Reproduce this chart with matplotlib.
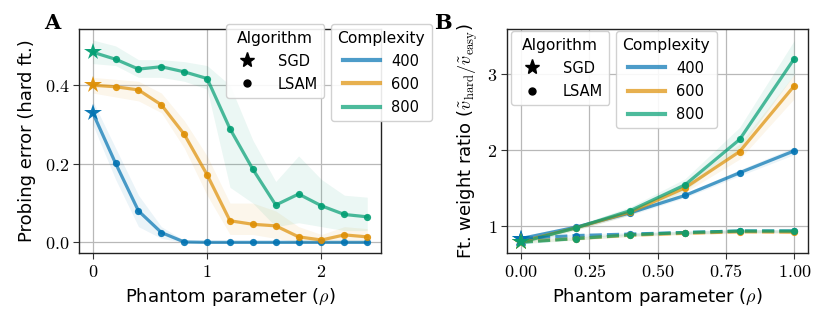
import matplotlib
matplotlib.use("Agg")
import matplotlib.pyplot as plt
import numpy as np
from matplotlib.ticker import FuncFormatter
from matplotlib.lines import Line2D

plt.rcParams['mathtext.fontset'] = 'cm'
plt.rcParams['font.family'] = ['DejaVu Sans']

# ---------------- Data ----------------
complexities = ["400", "600", "800"]
colors = ["#0173B2", "#DE8F05", "#029E73"]

rho_a = [0.0, 0.2, 0.4, 0.6, 0.8, 1.0, 1.2, 1.4, 1.6, 1.8, 2.0, 2.2, 2.4]
err_400 = [0.330, 0.201, 0.080, 0.025, 0.001, 0.0, 0.0, 0.0, 0.0, 0.0, 0.0, 0.0, 0.0]
err_600 = [0.400, 0.396, 0.388, 0.350, 0.275, 0.172, 0.055, 0.046, 0.042, 0.014, 0.006, 0.019, 0.014]
err_800 = [0.484, 0.466, 0.441, 0.447, 0.434, 0.417, 0.289, 0.186, 0.095, 0.123, 0.093, 0.071, 0.065]
err_400_lo = [0.30, 0.16, 0.04, 0.010, 0.0, 0.0, 0.0, 0.0, 0.0, 0.0, 0.0, 0.0, 0.0]
err_400_hi = [0.36, 0.24, 0.12, 0.040, 0.005, 0.002, 0.002, 0.002, 0.002, 0.002, 0.002, 0.002, 0.002]
err_600_lo = [0.38, 0.37, 0.36, 0.33, 0.24, 0.12, 0.02, 0.02, 0.01, 0.0, 0.0, 0.0, 0.0]
err_600_hi = [0.42, 0.415, 0.41, 0.38, 0.31, 0.22, 0.10, 0.10, 0.08, 0.04, 0.02, 0.04, 0.035]
err_800_lo = [0.455, 0.45, 0.42, 0.42, 0.41, 0.39, 0.14, 0.10, 0.04, 0.05, 0.04, 0.03, 0.03]
err_800_hi = [0.515, 0.50, 0.465, 0.465, 0.46, 0.45, 0.40, 0.26, 0.155, 0.22, 0.16, 0.12, 0.115]

rho_b = [0.0, 0.2, 0.4, 0.6, 0.8, 1.0]
ratio_400 = [0.83, 0.98, 1.17, 1.40, 1.70, 1.99]
ratio_600 = [0.79, 0.97, 1.18, 1.50, 1.98, 2.85]
ratio_800 = [0.78, 0.97, 1.20, 1.54, 2.14, 3.21]
ratio_400_lo = [0.80, 0.95, 1.14, 1.37, 1.66, 1.94]
ratio_400_hi = [0.86, 1.01, 1.20, 1.43, 1.74, 2.04]
ratio_600_lo = [0.76, 0.94, 1.14, 1.44, 1.88, 2.68]
ratio_600_hi = [0.82, 1.00, 1.22, 1.56, 2.08, 3.00]
ratio_800_lo = [0.75, 0.94, 1.15, 1.46, 2.02, 3.00]
ratio_800_hi = [0.81, 1.00, 1.25, 1.62, 2.30, 3.45]
dash_400 = [0.83, 0.87, 0.89, 0.91, 0.93, 0.93]
dash_600 = [0.79, 0.83, 0.875, 0.90, 0.92, 0.915]
dash_800 = [0.78, 0.83, 0.88, 0.91, 0.93, 0.93]

xticks_a = [0, 1, 2]
yticks_a = [0.0, 0.2, 0.4]
xticks_b = [0.0, 0.25, 0.5, 0.75, 1.0]
yticks_b = [1, 2, 3]

# ---------------- Figure ----------------
fig = plt.figure(figsize=(8.3, 3.26), dpi=100)
axA = fig.add_axes([0.0952, 0.224, 0.459 - 0.0952, 0.911 - 0.224])
axB = fig.add_axes([0.611, 0.224, 0.9735 - 0.611, 0.911 - 0.224])

LW = 2.3
LALPHA = 0.7


def style(ax):
    ax.grid(True, color="#b8b8b8", lw=0.9)
    ax.set_axisbelow(True)
    for s in ax.spines.values():
        s.set_color("#222222")
        s.set_linewidth(1.0)
    ax.tick_params(axis='both', which='major', length=4, width=0.8,
                   labelsize=13, color="#333333", pad=3)


def plot_series(ax, x, y, lo, hi, c, dashed=False, band=True):
    x = np.asarray(x)
    y = np.asarray(y)
    if band:
        ax.fill_between(x, lo, hi, color=c, alpha=0.08, lw=0)
    ls = (0, (3.8, 1.6)) if dashed else '-'
    ax.plot(x, y, color=c, lw=LW, alpha=LALPHA, ls=ls, zorder=3)
    ax.plot(x[1:], y[1:], 'o', color=c, ms=5.2, alpha=0.9, zorder=4, mew=0)
    ax.plot(x[:1], y[:1], '*', color=c, ms=13, alpha=0.95, zorder=5, mew=0)


# Panel A
style(axA)
for y, lo, hi, c in zip([err_400, err_600, err_800],
                        [err_400_lo, err_600_lo, err_800_lo],
                        [err_400_hi, err_600_hi, err_800_hi], colors):
    plot_series(axA, rho_a, y, lo, hi, c)
axA.set_xlim(-0.12, 2.52)
axA.set_ylim(-0.027, 0.543)
axA.set_xticks(xticks_a)
axA.set_yticks(yticks_a)
axA.xaxis.set_major_formatter(FuncFormatter(lambda v, p: f"${v:g}$"))
axA.yaxis.set_major_formatter(FuncFormatter(lambda v, p: f"${v:.1f}$"))
axA.set_xlabel(r"Phantom parameter ($\rho$)", fontsize=13, labelpad=4)
axA.set_ylabel("Probing error (hard ft.)", fontsize=13, labelpad=6)

# Panel B
style(axB)
for y, lo, hi, c in zip([ratio_400, ratio_600, ratio_800],
                        [ratio_400_lo, ratio_600_lo, ratio_800_lo],
                        [ratio_400_hi, ratio_600_hi, ratio_800_hi], colors):
    plot_series(axB, rho_b, y, lo, hi, c)
for y, c in zip([dash_400, dash_600, dash_800], colors):
    lo = np.asarray(y) - 0.02
    hi = np.asarray(y) + 0.02
    plot_series(axB, rho_b, y, lo, hi, c, dashed=True)
axB.set_xlim(-0.05, 1.05)
axB.set_ylim(0.64, 3.60)
axB.set_xticks(xticks_b)
axB.set_yticks(yticks_b)
axB.xaxis.set_major_formatter(FuncFormatter(lambda v, p: f"${v:.2f}$"))
axB.yaxis.set_major_formatter(FuncFormatter(lambda v, p: f"${v:g}$"))
axB.set_xlabel(r"Phantom parameter ($\rho$)", fontsize=13, labelpad=4)
axB.set_ylabel(r"Ft. weight ratio ($\tilde{v}_{\rm hard}/\tilde{v}_{\rm easy}$)",
               fontsize=13, labelpad=5)

# Legends
alg_handles = [Line2D([], [], ls='none', marker='*', color='black', ms=11),
               Line2D([], [], ls='none', marker='o', color='black', ms=5)]
alg_labels = ["SGD", "LSAM"]
cx_handles = [Line2D([], [], color=c, lw=3, alpha=LALPHA) for c in colors]

leg_kw = dict(fontsize=10.5, title_fontsize=11.2, frameon=True, framealpha=0.9,
              edgecolor="#cccccc", fancybox=True, borderpad=0.45,
              labelspacing=0.55, handlelength=2.0, handletextpad=1.1,
              borderaxespad=0, loc='upper left')

for ax, ax_alg_xy, ax_cx_xy in [(axA, (226, 24), (331, 24)),
                                (axB, (511, 31), (616, 31))]:
    l1 = ax.legend(alg_handles, alg_labels, title="Algorithm",
                   bbox_to_anchor=(ax_alg_xy[0] / 830, 1 - ax_alg_xy[1] / 326),
                   bbox_transform=fig.transFigure, **leg_kw)
    ax.add_artist(l1)
    kw2 = dict(leg_kw)
    kw2['handlelength'] = 2.5
    kw2['handletextpad'] = 0.8
    l2 = ax.legend(cx_handles, complexities, title="Complexity",
                   bbox_to_anchor=(ax_cx_xy[0] / 830, 1 - ax_cx_xy[1] / 326),
                   bbox_transform=fig.transFigure, **kw2)
    l1.set_zorder(10)
    l2.set_zorder(10)

fig.text(0.0635, 0.93, "A", fontsize=15, fontweight='bold', family='DejaVu Serif',
         ha='center', va='center')
fig.text(0.534, 0.93, "B", fontsize=15, fontweight='bold', family='DejaVu Serif',
         ha='center', va='center')

fig.savefig("out.png", dpi=100)
